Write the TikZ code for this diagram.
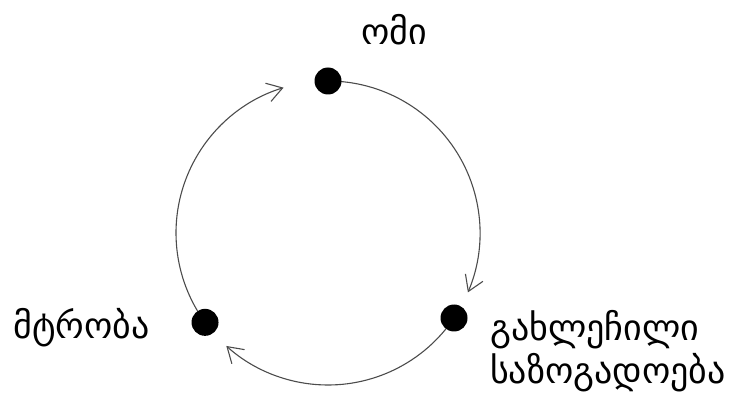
\documentclass[tikz,border=0pt]{standalone}
\usepackage{fontspec}
\newfontfamily\geofont[Script=Georgian]{DejaVu Sans}
\usetikzlibrary{arrows.meta,positioning,calc}

\begin{document}
\begin{tikzpicture}[x=1pt,y=1pt,
   dot/.style={circle,fill=black,inner sep=0pt,minimum size=27pt},
   flow/.style={draw=black!70,line width=1.1pt,-{Straight Barb[length=15pt,width=19pt,line width=1.1pt]}},
   label/.style={font=\geofont\fontsize{36}{43}\selectfont,inner sep=0pt}]
  \useasboundingbox (0,0) rectangle (747,405);
  \coordinate (c) at (328,172);
  \coordinate (pwar) at ($(c)+(90:152)$);
  \coordinate (psoc) at ($(c)+(-34:152)$);
  \coordinate (penm) at ($(c)+(216:152)$);
  % the cycle
  \draw[flow] (pwar) arc[start angle=90,end angle=-23,radius=152];
  \draw[flow] (psoc) arc[start angle=-34,end angle=-132,radius=152];
  \draw[flow] (penm) arc[start angle=216,end angle=107,radius=152];
  \node[dot] (war) at (pwar) {};
  \node[dot] (soc) at (psoc) {};
  \node[dot] (enm) at (penm) {};
  \node[label,anchor=base] (lwar) at (394,360) {ომი};
  \node[label,anchor=base east] (lenm) at (150,67) {მტრობა};
  \node[label,anchor=base west,align=left] (lsoc) at (490,22)
    {გახლეჩილი\\საზოგადოება};
\end{tikzpicture}
\end{document}
